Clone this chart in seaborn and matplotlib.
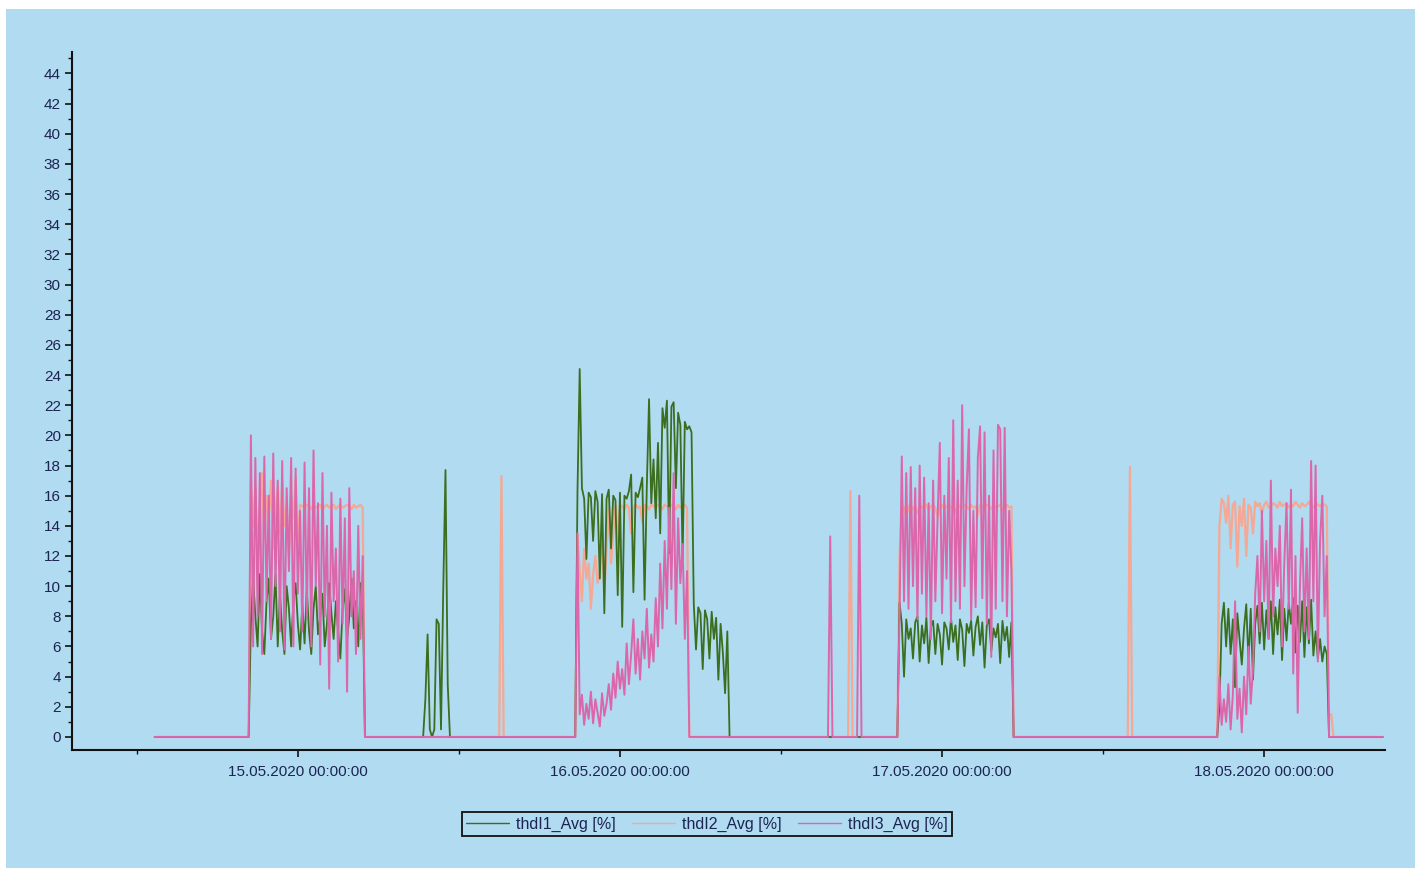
import numpy as np
import pandas as pd
import matplotlib
matplotlib.use("Agg")
import matplotlib.pyplot as plt
import matplotlib.dates as mdates
from matplotlib.ticker import MultipleLocator
from matplotlib.patches import Rectangle
import seaborn as sns

# ---------------- data (10-minute averages, %) ----------------
series_names = ["thdI1_Avg [%]", "thdI2_Avg [%]", "thdI3_Avg [%]"]
timeline_start = "2020-05-14 13:20"
timeline_end = "2020-05-18 08:50"

# block 1 (14.05 20:30 -> 15.05 05:00)
b1_start = "2020-05-14 20:30"
b1_i1 = [7.5, 10.5, 8, 6, 10.8, 7, 5.5, 9, 10.5, 6.5, 8, 10.8, 6, 9.5, 7, 5.5, 10, 8.5, 6, 9,
         10.2, 7.5, 5.8, 8.8, 6.2, 9.8, 7, 5.5, 8.5, 10, 6.8, 8, 9.5, 6, 7.5, 10.2, 8.2, 6.5, 9, 7,
         5.2, 8.5, 9.8, 6.5, 8, 10.5, 7.2, 9, 6, 10.2, 9.5]
b1_i2 = [17, 14, 16.5, 12, 15.5, 17.5, 13, 16, 14.5, 17, 12.5, 15, 16.5, 13.5, 17, 14, 15.5, 12, 16, 14.5,
         17.2, 13, 15.4, 15.3, 15.2, 15.4, 15.3, 15.1, 15.4, 15.2, 15.3, 15.4, 15.0, 15.3, 15.4, 15.2, 15.3,
         15.4, 15.1, 15.3, 15.4, 15.2, 15.3, 15.4, 15.3, 15.1, 15.4, 15.2, 15.3, 15.4, 15.2]
b1_i3 = [20, 6, 18.5, 8, 17.5, 5.5, 18.6, 9, 16, 6.5, 18.8, 10, 17, 7, 18.3, 5.8, 16.5, 11, 18.5, 6,
         17.8, 9.5, 15, 7, 18.2, 8, 16.5, 6, 19, 10, 15.5, 4.8, 17.5, 8, 14, 3.2, 16.2, 9, 12.5, 5,
         15.8, 7.5, 14.5, 3, 16.5, 8, 11, 5.5, 14, 6.5, 12]

# short thdI1 bursts on 15.05 morning
s1_start = "2020-05-15 09:20"
s1_i1 = [0, 2.5, 6.8, 0.5, 0, 0.5, 7.8, 7.5, 0.5, 9.8, 17.7, 3.5, 0]

# block 2 (15.05 20:50 -> 16.05 05:00, thdI1 until 08:00)
b2_start = "2020-05-15 20:50"
b2_i1 = [16.2, 24.4, 16.5, 15.8, 11.8, 16.2, 15.9, 13, 16.3, 15.6, 10.5, 16.1, 8.2, 15.8, 16.4, 12.5,
         16, 15.7, 9.4, 16.2, 7.3, 16, 15.8, 16.3, 17.4, 9.6, 16.2, 15.9, 16.5, 17.2, 9.1, 16.6, 22.4,
         15.5, 18.4, 14.5, 19.5, 13.5, 21.8, 20.5, 22.3, 12.2, 21.9, 22.2, 16.5, 21.5, 20.7, 11.8, 20.9,
         20.4, 20.6, 20.2, 8.8, 5.8, 8.6, 8.2, 4.5, 8.4, 7.8, 5.2, 8.3, 6.5, 7.9, 3.8, 7.5, 5.6, 2.9, 7]
b2_i2 = [13.5, 11, 9, 12.5, 10.5, 11.5, 8.5, 10.8, 12, 10.2, 11, 13.8, 9.5, 12.5, 15.2, 11.5, 13.5,
         15.3, 12.8, 15.4, 15.3, 15.1, 15.4, 15.2, 13.5, 15.3, 15.4, 15.2, 15.3, 14.2, 15.4, 15.3, 15.1,
         15.4, 15.3, 15.2, 15.4, 15.3, 15.1, 15.4, 15.3, 15.2, 15.4, 15.3, 15.1, 15.4, 15.2, 15.3, 15.4, 15.2]
b2_i3 = [13.5, 1.5, 2.8, 0.8, 2.2, 1.2, 3, 0.9, 2.5, 1.6, 0.7, 2.9, 1.4, 2.2, 3.5, 1.8, 4.2, 2.6, 5,
         3.2, 4.5, 2.8, 6.2, 3.5, 5.5, 7.8, 4.2, 6.5, 3.8, 7, 5.2, 8.5, 4.6, 6.8, 5, 9.2, 6, 11.5, 7.2,
         13, 8.5, 15.2, 9.8, 17.5, 7.5, 14.5, 10.2, 12.8, 6.5, 11]

# isolated spikes
spike_i2_times = ["2020-05-15 15:10", "2020-05-16 17:10", "2020-05-17 14:00"]
spike_i2_values = [17.3, 16.3, 17.9]
spike_i3_times = ["2020-05-16 15:40", "2020-05-16 17:50"]
spike_i3_values = [13.3, 16.0]

# block 3 (16.05 20:50 -> 17.05 05:10)
b3_start = "2020-05-16 20:50"
b3_i1 = [8.9, 7.5, 4, 7.8, 6.5, 7.2, 5.2, 7.6, 8, 5, 7.4, 6.2, 7.9, 4.9, 7.3, 7.7, 5.5, 7.5, 6.8, 4.8,
         7.6, 7.2, 5.8, 7.9, 6.3, 7.4, 5.1, 7.8, 7.1, 4.7, 7.5, 6.9, 7.7, 5.4, 7.3, 8, 6.1, 7.6, 4.6, 7.4,
         7.8, 5.7, 7.2, 6.6, 7.5, 4.9, 7.7, 6.4, 7.3, 5.3, 7.6]
b3_i2 = [12, 15.4, 15.2, 14.5, 15.3, 15.4, 15.1, 15.3, 14.8, 15.4, 15.2, 15.3, 15.4, 15.0, 15.3, 15.4,
         15.2, 14.6, 15.3, 15.4, 15.1, 15.3, 15.4, 15.2, 15.3, 14.9, 15.4, 15.3, 15.2, 15.4, 15.3, 15.1,
         15.4, 15.2, 15.3, 14.7, 15.4, 15.3, 15.2, 15.4, 15.3, 15.1, 15.4, 15.2, 15.3, 15.4, 15.0, 15.3,
         15.4, 15.2, 15.3]
b3_i3 = [8, 18.6, 9, 17.5, 8.5, 17.9, 10, 16.5, 7.8, 18, 9.5, 17.2, 8, 15.5, 6.5, 17, 9, 14.5, 19.5,
         8.2, 16, 10.5, 18.5, 7.6, 21, 9, 17, 8.5, 22, 10, 16.5, 20.4, 7.8, 15, 8.6, 18.5, 20.6, 9.2,
         20.2, 7.5, 16, 5.3, 19, 8.5, 20.7, 20.4, 9, 20.5, 8, 15, 11]

# block 4 (17.05 20:40 -> 18.05 04:40)
b4_start = "2020-05-17 20:40"
b4_i1 = [2, 7.5, 8.9, 6, 8.5, 5.5, 7.8, 3.3, 8.2, 6.5, 4.8, 7.2, 8.8, 5, 8.5, 3.8, 7.5, 8.7, 6.2, 8.9,
         5.8, 8.4, 6.5, 9, 5.5, 8.6, 6.8, 9.1, 5.1, 8.5, 6.4, 8.9, 7.5, 9.2, 5.6, 8.7, 6.3, 9, 5.3, 8.6,
         6.2, 9.1, 5.4, 7, 5.2, 6.5, 5, 6, 5.5]
b4_i2 = [14, 15.8, 15.5, 14.2, 16, 12.5, 15.4, 15.6, 11.3, 15.3, 14, 15.8, 12, 15.4, 15.2, 13.5, 15.6,
         15.3, 15.5, 14.8, 15.4, 15.6, 15.2, 15.3, 15.5, 15.4, 15.2, 15.6, 15.3, 15.4, 15.5, 15.2, 15.4,
         15.3, 15.6, 15.4, 15.2, 15.5, 15.3, 15.4, 15.6, 15.3, 15.2, 15.5, 15.4, 15.3, 15.5, 15.4, 15.3,
         1.5, 1.5]
b4_i3 = [4, 0.8, 2.5, 1, 3.5, 0.5, 2.8, 9, 1.2, 3.2, 0.3, 4, 1.5, 6, 2.2, 4.5, 9.5, 12, 7, 15, 9, 13,
         6.5, 17, 8, 12.5, 10, 14, 6, 11.5, 15.5, 8.5, 16.4, 4.2, 12, 1.6, 10, 14.5, 7, 12.5, 6.5, 18.3,
         9, 18, 5, 13, 16, 8, 12]

# ---------------- assemble series ----------------
idx = pd.date_range(timeline_start, timeline_end, freq="10min")


def put(s, start, values):
    pos = idx.get_loc(pd.Timestamp(start))
    s.iloc[pos:pos + len(values)] = values


i1 = pd.Series(0.0, index=idx)
i2 = pd.Series(0.0, index=idx)
i3 = pd.Series(0.0, index=idx)
for start, vals in [(b1_start, b1_i1), (s1_start, s1_i1), (b2_start, b2_i1), (b3_start, b3_i1), (b4_start, b4_i1)]:
    put(i1, start, vals)
for start, vals in [(b1_start, b1_i2), (b2_start, b2_i2), (b3_start, b3_i2), (b4_start, b4_i2)]:
    put(i2, start, vals)
for start, vals in [(b1_start, b1_i3), (b2_start, b2_i3), (b3_start, b3_i3), (b4_start, b4_i3)]:
    put(i3, start, vals)
for t, v in zip(spike_i2_times, spike_i2_values):
    put(i2, t, [v])
for t, v in zip(spike_i3_times, spike_i3_values):
    put(i3, t, [v])

df = pd.DataFrame({"time": idx, series_names[0]: i1.values,
                   series_names[1]: i2.values, series_names[2]: i3.values})

# ---------------- styling ----------------
bg = "#b1dbf1"
txt = "#1c2452"
colors = {series_names[0]: "#3b6e1e", series_names[1]: "#f5a894", series_names[2]: "#db66aa"}
zorders = {series_names[0]: 3, series_names[1]: 2, series_names[2]: 4}
widths = {series_names[0]: 1.3, series_names[1]: 1.6, series_names[2]: 1.4}

sns.set_style("ticks")
plt.rcParams["font.family"] = ["Liberation Sans", "DejaVu Sans"]

fig = plt.figure(figsize=(14.19, 8.72), dpi=100)
fig.patch.set_facecolor("white")
fig.add_artist(Rectangle((0.004, 0.005), 0.993, 0.985, transform=fig.transFigure,
                         facecolor=bg, edgecolor="none", zorder=-10))
ax = fig.add_axes([0.0507, 0.140, 0.9253, 0.800])
ax.set_facecolor(bg)

for name in series_names:
    sns.lineplot(data=df, x="time", y=name, ax=ax, color=colors[name], linewidth=widths[name],
                 label=name, zorder=zorders[name])

ax.set_xlim(pd.Timestamp("2020-05-14 07:10"), pd.Timestamp("2020-05-18 09:00"))
ax.set_ylim(-0.86, 45.4)
ax.set_xlabel("")
ax.set_ylabel("")

ax.yaxis.set_major_locator(MultipleLocator(2))
ax.yaxis.set_minor_locator(MultipleLocator(1))
ax.xaxis.set_major_locator(mdates.DayLocator())
ax.xaxis.set_minor_locator(mdates.HourLocator(byhour=[12]))
ax.xaxis.set_major_formatter(mdates.DateFormatter("%d.%m.%Y %H:%M:%S"))

for s in ["top", "right"]:
    ax.spines[s].set_visible(False)
for s in ["left", "bottom"]:
    ax.spines[s].set_color("#111111")
    ax.spines[s].set_linewidth(1.5)

ax.tick_params(axis="both", which="major", length=5, width=1.2, color="#111111",
               labelsize=11, labelcolor=txt)
ax.tick_params(axis="both", which="minor", length=3, width=1.0, color="#111111")
ax.tick_params(axis="y", which="major", pad=3)
ax.tick_params(axis="x", which="major", pad=6)

handles, labels = ax.get_legend_handles_labels()
leg = ax.legend(handles, labels, loc="center", bbox_to_anchor=(0.498, 0.055),
                bbox_transform=fig.transFigure, ncol=3, frameon=True, fancybox=False,
                edgecolor="#111111", facecolor=bg, framealpha=1.0, fontsize=11.5,
                handlelength=2.7, columnspacing=1.0, borderpad=0.25, handletextpad=0.45,
                borderaxespad=0)
leg.get_frame().set_linewidth(1.3)
for line in leg.get_lines():
    line.set_linewidth(1.0)
for t in leg.get_texts():
    t.set_color(txt)

fig.savefig("out.png", dpi=100, facecolor=fig.get_facecolor())
